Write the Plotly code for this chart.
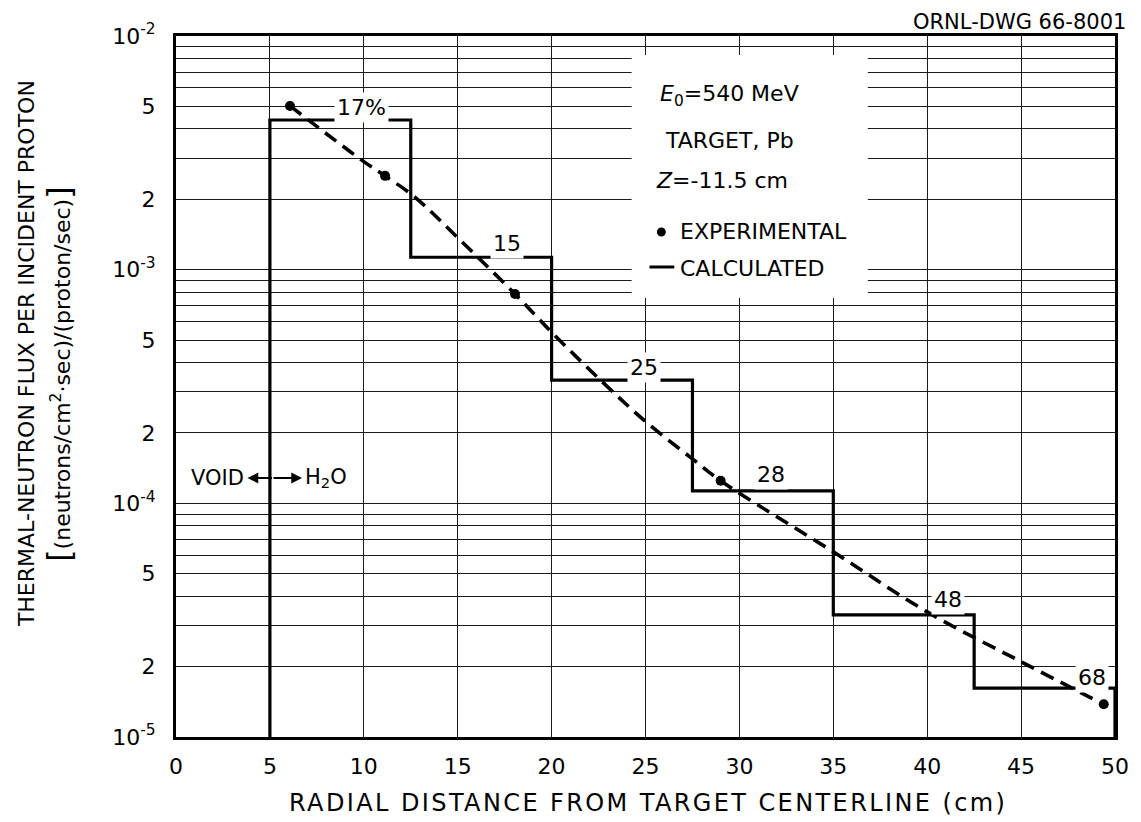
import numpy as np
import plotly.graph_objects as go

# ---------------- data ----------------
bin_edges = [5, 12.5, 20, 27.5, 35, 42.5, 50]
calc_flux = [4.37e-3, 1.13e-3, 3.37e-4, 1.13e-4, 3.33e-5, 1.62e-5]
bin_labels = ["17%", "15", "25", "28", "48", "68"]

exp_x = [6.07, 11.13, 18.05, 29.0, 49.4]
exp_flux = [5.02e-3, 2.52e-3, 7.87e-4, 1.25e-4, 1.38e-5]

curve_x = [6.07, 10, 11.13, 12.7, 15, 18.05, 20, 22.7, 25, 27.5, 29.0, 35, 40, 45, 49.4]
curve_flux = [5.02e-3, 2.9e-3, 2.52e-3, 2.05e-3, 1.37e-3, 7.87e-4, 5.4e-4, 3.31e-4,
              2.24e-4, 1.55e-4, 1.25e-4, 6.2e-5, 3.43e-5, 2.1e-5, 1.38e-5]

x_ticks = [0, 5, 10, 15, 20, 25, 30, 35, 40, 45, 50]
y_tickvals = [1e-5, 2e-5, 5e-5, 1e-4, 2e-4, 5e-4, 1e-3, 2e-3, 5e-3, 1e-2]
y_ticktext = ["10<sup>-5</sup>", "2", "5", "10<sup>-4</sup>", "2", "5",
              "10<sup>-3</sup>", "2", "5", "10<sup>-2</sup>"]

# ---------------- layout constants ----------------
W, H = 1141, 822
PAGE_OFF = 8  # default body margin of the html page
ML, MR, MT, MB = 176, 19, 36, 85
Y_MIN_EXP, Y_MAX_EXP = -5, -2
FONT = "DejaVu Sans"


def px(xp):
    return (xp - ML) / (W - ML - MR)


def py(yp):
    return (H - MB - yp) / (H - MT - MB)


y_floor = 10 ** Y_MIN_EXP

# step (calculated) trace built from bins
step_x = [bin_edges[0]] + list(bin_edges) + [bin_edges[-1]]
step_y = [y_floor] + list(calc_flux) + [calc_flux[-1], y_floor]

fig = go.Figure()

fig.add_trace(go.Scatter(
    x=step_x, y=step_y, mode="lines", line_shape="hv",
    line=dict(color="black", width=3.2), showlegend=False, hoverinfo="skip"))

fig.add_trace(go.Scatter(
    x=curve_x, y=curve_flux, mode="lines", line_shape="spline",
    line=dict(color="black", width=3.6, dash="14px,8px"), showlegend=False))

fig.add_trace(go.Scatter(
    x=exp_x, y=exp_flux, mode="markers",
    marker=dict(color="black", size=10), showlegend=False, cliponaxis=False))

minor_vals = [m * 10.0 ** e for e in range(Y_MIN_EXP, Y_MAX_EXP) for m in range(2, 10)]

grid_col = "#1a1a1a"
fig.update_xaxes(
    range=[0, 50], tickvals=x_ticks, ticktext=[str(v) for v in x_ticks],
    showgrid=True, gridcolor=grid_col, gridwidth=1.3,
    showline=True, linecolor="black", linewidth=3, mirror=True,
    ticks="", zeroline=False, ticklabelstandoff=8,
    tickfont=dict(family=FONT, size=22, color="black"))

fig.update_yaxes(
    type="log", range=[Y_MIN_EXP, Y_MAX_EXP],
    tickvals=y_tickvals, ticktext=y_ticktext,
    showgrid=True, gridcolor=grid_col, gridwidth=1.3,
    minor=dict(tickvals=minor_vals, showgrid=True, gridcolor=grid_col, gridwidth=1.3, ticks=""),
    showline=True, linecolor="black", linewidth=3, mirror=True,
    ticks="", zeroline=False, ticklabelstandoff=13,
    tickfont=dict(family=FONT, size=22, color="black"))

annotations = []

# step labels
label_pos = [(9.9, 13), (17.6, 14), (24.9, 13), (31.7, 16), (41.1, 15), (48.8, 11)]
for lab, v, (lx, sh) in zip(bin_labels, calc_flux, label_pos):
    annotations.append(dict(
        x=lx, y=np.log10(v), xref="x", yref="y", text=lab, showarrow=False,
        yshift=sh, xanchor="center", yanchor="middle", bgcolor="white", borderpad=2,
        font=dict(family=FONT, size=22, color="black")))

# legend box texts
legend_texts = [
    ("<i>E</i><sub>0</sub>=540 MeV", 662, 95),
    ("TARGET, Pb", 667, 140),
    ("<i>Z</i>=-11.5 cm", 658, 180),
    ("EXPERIMENTAL", 682, 232),
    ("CALCULATED", 682, 268),
]
for t, xp, yp in legend_texts:
    annotations.append(dict(
        x=px(xp), y=py(yp), xref="paper", yref="paper", text=t, showarrow=False,
        xanchor="left", yanchor="middle", font=dict(family=FONT, size=22, color="black")))

# VOID / H2O
annotations.append(dict(x=px(247), y=py(478), xref="paper", yref="paper", text="VOID",
                        showarrow=False, xanchor="right", yanchor="middle",
                        font=dict(family=FONT, size=21, color="black")))
annotations.append(dict(x=px(304), y=py(478), xref="paper", yref="paper", text="H<sub>2</sub>O",
                        showarrow=False, xanchor="left", yanchor="middle",
                        font=dict(family=FONT, size=21, color="black")))
annotations.append(dict(x=px(248), y=py(478), xref="paper", yref="paper", text="",
                        showarrow=True, ax=26, ay=0, arrowhead=2, arrowsize=1.2,
                        arrowwidth=1.8, arrowcolor="black", standoff=0))
annotations.append(dict(x=px(303), y=py(478), xref="paper", yref="paper", text="",
                        showarrow=True, ax=-30, ay=0, arrowhead=2, arrowsize=1.2,
                        arrowwidth=1.8, arrowcolor="black", standoff=0))

# drawing number
annotations.append(dict(x=px(1135), y=py(PAGE_OFF), xref="paper", yref="paper",
                        text="ORNL-DWG 66-8001", showarrow=False, xanchor="right",
                        yanchor="top", font=dict(family=FONT, size=21, color="black")))

# axis titles
annotations.append(dict(x=px(652), y=py(803), xref="paper", yref="paper",
                        text="<span style=\"letter-spacing:2.4px\">RADIAL DISTANCE FROM TARGET CENTERLINE (cm)</span>",
                        showarrow=False, xanchor="center", yanchor="middle",
                        font=dict(family=FONT, size=24, color="black")))
annotations.append(dict(x=px(25), y=py(354), xref="paper", yref="paper",
                        text="THERMAL-NEUTRON FLUX PER INCIDENT PROTON", textangle=-90,
                        showarrow=False, xanchor="center", yanchor="middle",
                        font=dict(family=FONT, size=22, color="black")))
annotations.append(dict(x=px(58), y=py(374), xref="paper", yref="paper",
                        text="<span style=\"font-size:32px\">[</span>(neutrons/cm<sup>2</sup>·sec)/(proton/sec)<span style=\"font-size:32px\">]</span>",
                        textangle=-90,
                        showarrow=False, xanchor="center", yanchor="middle",
                        font=dict(family=FONT, size=22, color="black")))

shapes = [
    dict(type="rect", xref="paper", yref="paper", x0=px(635), x1=px(873),
         y0=py(298), y1=py(55), fillcolor="white", line=dict(width=0), layer="above"),
    dict(type="circle", xref="paper", yref="paper", x0=px(660.5), x1=px(669.5),
         y0=py(236.5), y1=py(227.5), fillcolor="black", line=dict(width=0), layer="above"),
    dict(type="line", xref="paper", yref="paper", x0=px(653), x1=px(678),
         y0=py(267), y1=py(267), line=dict(color="black", width=3), layer="above"),
]

# the page places the figure PAGE_OFF px from the top-left corner
fig.update_layout(
    width=W - PAGE_OFF, height=H - PAGE_OFF, autosize=False,
    margin=dict(l=ML - PAGE_OFF, r=MR, t=MT - PAGE_OFF, b=MB, pad=0),
    paper_bgcolor="white", plot_bgcolor="white",
    font=dict(family=FONT, color="black"),
    annotations=annotations, shapes=shapes, showlegend=False)

fig.write_html("out.html")
